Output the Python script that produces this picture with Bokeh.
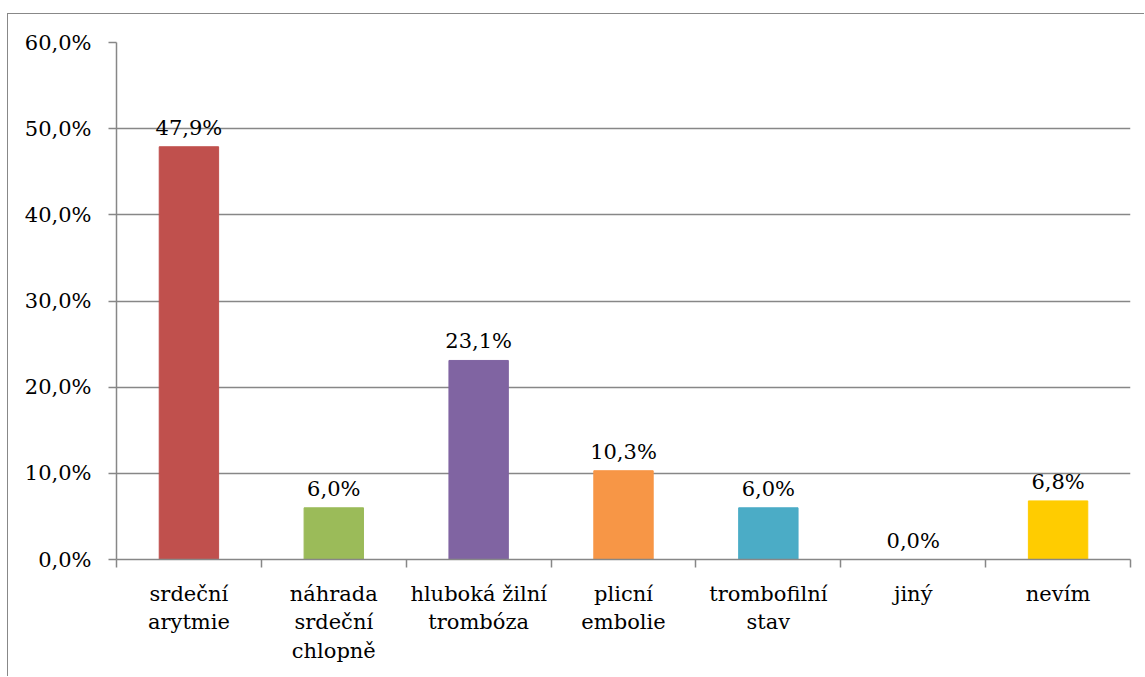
from bokeh.plotting import figure
from bokeh.models import FixedTicker, ColumnDataSource
from bokeh.embed import file_html
from bokeh.resources import INLINE
from bokeh.core.properties import value

categories = ["srdeční\narytmie", "náhrada\nsrdeční\nchlopně", "hluboká žilní\ntrombóza",
              "plicní\nembolie", "trombofilní\nstav", "jiný", "nevím"]
shares = [47.9, 6.0, 23.1, 10.3, 6.0, 0.0, 6.8]
colors = ["#C0504D", "#9BBB59", "#8064A2", "#F79646", "#4BACC6", "#4F81BD", "#FFCC00"]
y_ticks = [0, 10, 20, 30, 40, 50, 60]

FONT = "DejaVu Serif"
SIZE = "21px"
GRID = "#878787"

xs = [i + 0.5 for i in range(len(categories))]
labels = [f"{v:.1f}".replace(".", ",") + "%" for v in shares]
src = ColumnDataSource(dict(x=xs, top=shares, color=colors, label=labels))

p = figure(width=1137, height=663, x_range=(0, len(categories)), y_range=(0, 60),
           output_backend="svg", toolbar_location=None,
           min_border_left=108, min_border_right=15, min_border_top=28, min_border_bottom=118)
p.margin = (13, 0, 0, 7)
p.styles = {"border-left": "1.5px solid #888888", "border-top": "1.5px solid #888888"}
p.outline_line_color = None
p.background_fill_color = "white"

p.vbar(x="x", top="top", width=0.41, color="color", source=src)
p.text(x="x", y="top", text="label", source=src, text_align="center",
       text_baseline="bottom", y_offset=-7, text_font=value(FONT),
       text_font_size=SIZE, text_color="black")

# y axis
p.yaxis.ticker = FixedTicker(ticks=y_ticks, minor_ticks=[])
p.yaxis.major_label_overrides = {t: f"{t:.1f}".replace(".", ",") + "%" for t in y_ticks}
p.yaxis.major_label_text_font = FONT
p.yaxis.major_label_text_font_size = SIZE
p.yaxis.major_label_text_color = "black"
p.yaxis.major_label_standoff = 17
p.yaxis.axis_line_color = GRID
p.yaxis.axis_line_width = 1.5
p.yaxis.major_tick_line_color = GRID
p.yaxis.major_tick_line_width = 1.5
p.yaxis.major_tick_in = 0
p.yaxis.major_tick_out = 8

# x axis: labels at category centres, tick marks at category boundaries
p.xaxis.ticker = FixedTicker(ticks=xs, minor_ticks=list(range(len(categories) + 1)))
p.xaxis.major_label_overrides = {x: c for x, c in zip(xs, categories)}
p.xaxis.major_label_text_font = FONT
p.xaxis.major_label_text_font_size = SIZE
p.xaxis.major_label_text_line_height = 1.2
p.xaxis.major_label_text_color = "black"
p.xaxis.major_label_standoff = 14
p.xaxis.major_tick_line_color = None
p.xaxis.axis_line_color = GRID
p.xaxis.axis_line_width = 1.5
p.xaxis.minor_tick_line_color = GRID
p.xaxis.minor_tick_line_width = 1.5
p.xaxis.minor_tick_in = 0
p.xaxis.minor_tick_out = 8

p.xgrid.grid_line_color = None
p.ygrid.ticker = FixedTicker(ticks=y_ticks)
p.ygrid.grid_line_color = GRID
p.ygrid.grid_line_width = 1.5

open("out.html", "w").write(file_html(p, INLINE))
